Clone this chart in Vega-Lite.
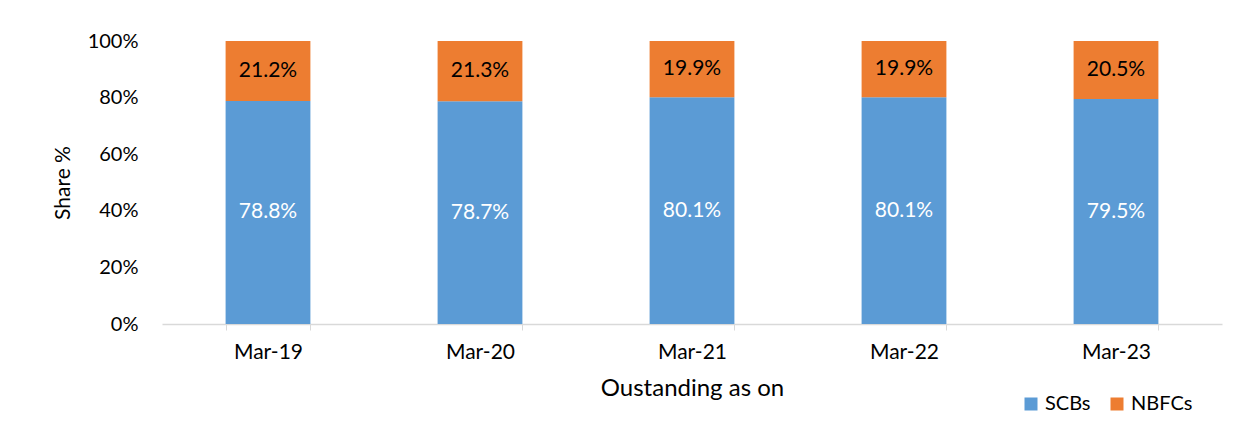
{
  "$schema": "https://vega.github.io/schema/vega-lite/v6.json",
  "autosize": {"type": "none"},
  "padding": {"left": 162, "top": 41, "right": 28, "bottom": 112},
  "width": 1060,
  "height": 283,
  "background": "white",
  "config": {
    "font": "Lato",
    "view": {"stroke": null},
    "axis": {"labelColor": "#000000", "titleColor": "#000000", "labelFont": "Lato", "titleFont": "Lato", "titleFontWeight": "normal"},
    "legend": {"labelFont": "Lato", "labelColor": "#000000"}
  },
  "data": {
    "values": [
      {"period": "Mar-19", "series": "SCBs", "value": 78.8},
      {"period": "Mar-19", "series": "NBFCs", "value": 21.2},
      {"period": "Mar-20", "series": "SCBs", "value": 78.7},
      {"period": "Mar-20", "series": "NBFCs", "value": 21.3},
      {"period": "Mar-21", "series": "SCBs", "value": 80.1},
      {"period": "Mar-21", "series": "NBFCs", "value": 19.9},
      {"period": "Mar-22", "series": "SCBs", "value": 80.1},
      {"period": "Mar-22", "series": "NBFCs", "value": 19.9},
      {"period": "Mar-23", "series": "SCBs", "value": 79.5},
      {"period": "Mar-23", "series": "NBFCs", "value": 20.5}
    ]
  },
  "encoding": {
    "x": {
      "field": "period", "type": "nominal", "sort": null,
      "scale": {"paddingInner": 0.6, "paddingOuter": 0.3},
      "axis": {
        "title": "Oustanding as on", "titleFontSize": 24, "titlePadding": 14,
        "labelAngle": 0, "labelFontSize": 21, "labelPadding": 11,
        "tickBand": "extent", "tickSize": 6, "tickColor": "#d9d9d9",
        "domainColor": "#d9d9d9", "domainWidth": 1.5
      }
    },
    "order": {"field": "series", "sort": "descending"}
  },
  "layer": [
    {
      "mark": {"type": "bar"},
      "encoding": {
        "y": {
          "field": "value", "type": "quantitative", "stack": "zero",
          "scale": {"domain": [0, 100], "nice": false},
          "axis": {
            "title": "Share %", "titleFontSize": 21, "titlePadding": 14,
            "values": [0, 20, 40, 60, 80, 100], "labelExpr": "datum.value + '%'",
            "labelFontSize": 20, "labelPadding": 24, "ticks": false, "domain": false, "grid": false
          }
        },
        "color": {
          "field": "series", "type": "nominal",
          "scale": {"domain": ["SCBs", "NBFCs"], "range": ["#5B9BD5", "#ED7D31"]},
          "legend": {
            "title": null, "orient": "none", "direction": "horizontal",
            "legendX": 859, "legendY": 353, "symbolType": "square", "symbolSize": 169,
            "symbolStrokeWidth": 0, "labelFontSize": 20, "columnPadding": 16, "labelOffset": 4, "padding": 0
          }
        }
      }
    },
    {
      "mark": {"type": "text", "fontSize": 21, "baseline": "middle", "align": "center", "text": {"expr": "format(datum.value, '.1f') + '%'"}},
      "encoding": {
        "y": {"field": "value", "type": "quantitative", "stack": "zero", "bandPosition": 0.5},
        "color": {"condition": {"test": "datum.series === 'SCBs'", "value": "white"}, "value": "black"}
      }
    }
  ]
}
